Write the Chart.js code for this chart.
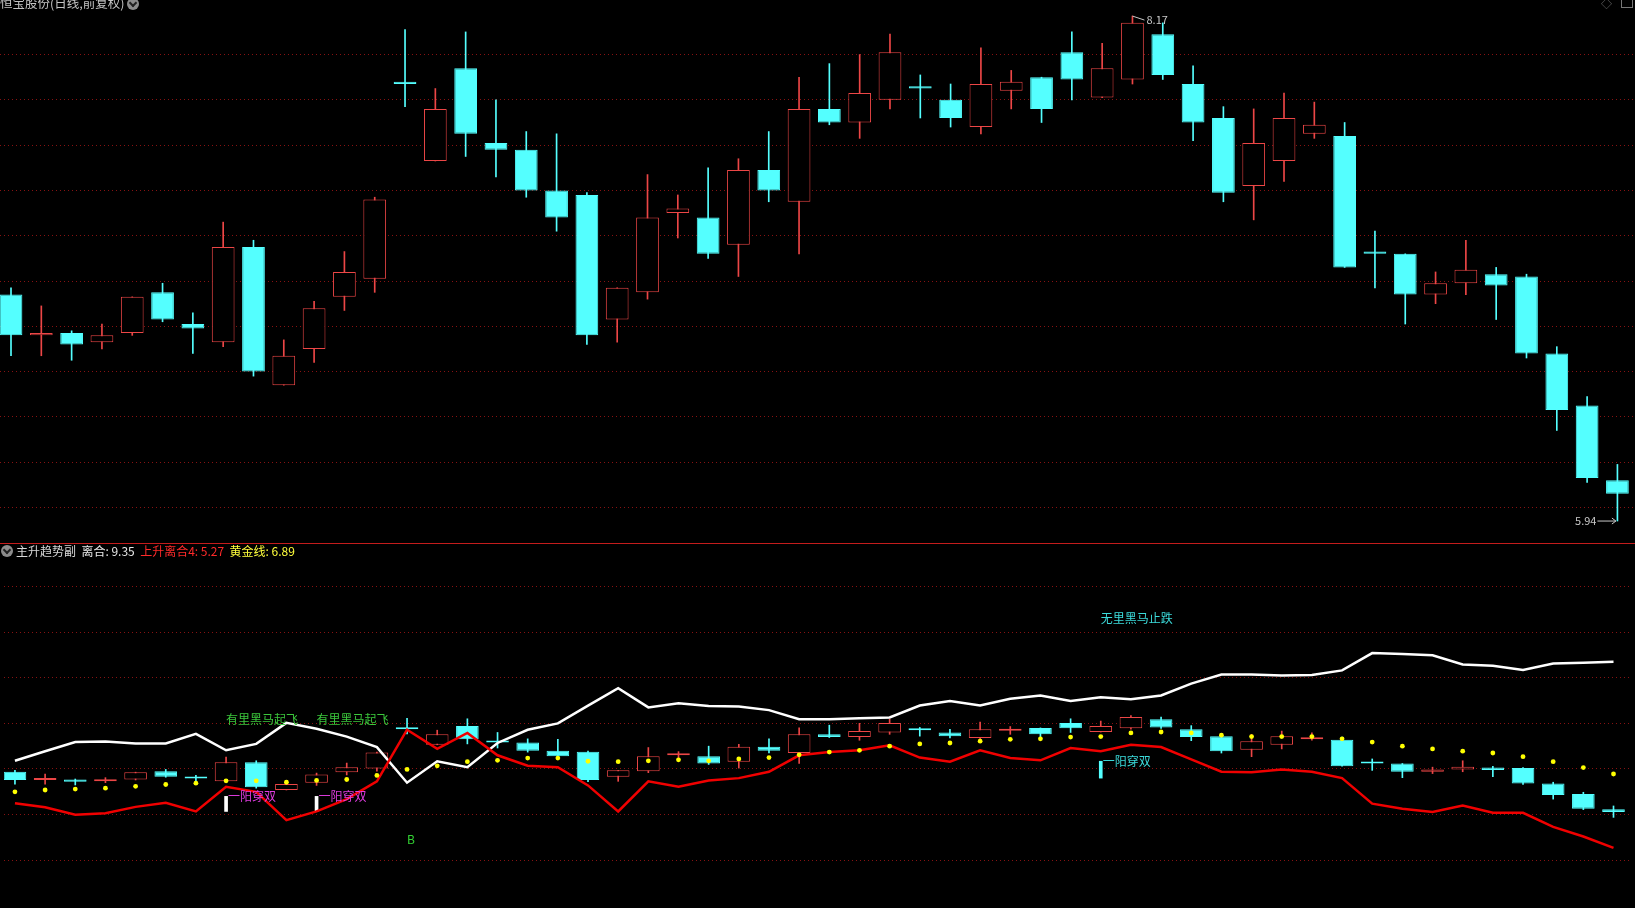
<!DOCTYPE html>
<html lang="zh-CN">
<head>
<meta charset="UTF-8">
<title>恒宝股份(日线,前复权)</title>
<script src="https://cdn.jsdelivr.net/npm/chart.js"></script>
<style>
  body { margin:0; background:#000; width:1635px; height:908px; overflow:hidden; position:relative; font-family:"Noto Sans CJK SC", "Noto Sans", sans-serif; }
  canvas { position:absolute; left:0; }
  .hdr { position:absolute; font-size:12px; white-space:pre; line-height:14px; }
  .ico { position:absolute; width:12px; height:12px; border-radius:50%; background:#8c8c8c; }
  .ico::after { content:""; position:absolute; left:3px; top:2px; width:4px; height:4px; border-right:2px solid #222; border-bottom:2px solid #222; transform:rotate(45deg); }
</style>
</head>
<body>
<canvas id="priceChart" style="top:0" width="1635" height="543"></canvas>
<div style="position:absolute;left:0;top:543px;width:1635px;height:1px;background:#c41c1c"></div>
<canvas id="indChart" style="top:544px" width="1635" height="364"></canvas>

<!-- headers -->
<div class="hdr" style="left:0;top:-4px;color:#c4c4c4;font-size:12.5px">恒宝股份(日线,前复权)</div>
<div class="ico" style="left:127px;top:-2px"></div>
<div class="hdr" style="left:1601px;top:-4px;color:#777;font-size:11px">◇</div>
<div style="position:absolute;left:1621px;top:-2px;width:10px;height:9px;border:1px solid #777;border-top:none"></div>

<div class="ico" style="left:1px;top:545px"></div>
<div class="hdr" style="left:16px;top:544px"><span style="color:#d8d8d8">主升趋势副</span>  <span style="color:#e8e8e8">离合: 9.35</span>  <span style="color:#ff2a2a">上升离合4: 5.27</span>  <span style="color:#ffff3c">黄金线: 6.89</span></div>

<script>
// daily candles (前复权)
const opens  = [6.94,6.76,6.77,6.73,6.77,6.95,6.81,6.73,7.15,6.54,6.70,6.93,7.01,7.88,7.53,7.94,7.61,7.58,7.40,7.38,
                6.83,6.95,7.30,7.28,7.16,7.49,7.35,7.76,7.70,7.80,7.86,7.80,7.68,7.84,7.90,8.01,7.81,7.89,8.09,7.87,
                7.72,7.42,7.53,7.65,7.64,7.13,7.12,6.94,6.99,7.03,7.02,6.68,6.45,6.12];
const highs  = [6.97,6.89,6.78,6.81,6.93,6.99,6.86,7.26,7.18,6.74,6.91,7.13,7.37,8.11,7.85,8.10,7.80,7.66,7.65,7.39,
                6.97,7.47,7.38,7.50,7.54,7.66,7.90,7.96,8.00,8.09,7.91,7.87,8.03,7.93,7.90,8.10,8.05,8.17,8.14,7.95,
                7.77,7.76,7.83,7.79,7.70,7.22,7.12,7.04,7.18,7.06,7.03,6.71,6.49,6.19];
const lows   = [6.67,6.67,6.65,6.70,6.76,6.82,6.68,6.71,6.58,6.54,6.64,6.87,6.95,7.77,7.53,7.55,7.46,7.37,7.22,6.72,
                6.73,6.92,7.19,7.10,7.02,7.35,7.12,7.69,7.63,7.76,7.72,7.68,7.65,7.76,7.70,7.80,7.81,7.87,7.89,7.62,
                7.35,7.27,7.44,7.63,7.06,6.97,6.81,6.90,6.94,6.83,6.66,6.34,6.11,5.94];
const closes = [6.76,6.77,6.72,6.76,6.93,6.83,6.79,7.15,6.60,6.67,6.88,7.04,7.36,7.87,7.76,7.65,7.58,7.40,7.28,6.76,
                6.97,7.28,7.32,7.12,7.49,7.40,7.76,7.70,7.83,8.01,7.85,7.72,7.87,7.88,7.76,7.89,7.94,8.14,7.91,7.70,
                7.39,7.61,7.72,7.69,7.06,7.12,6.94,6.99,7.05,6.98,6.68,6.43,6.13,6.06];

// 主升趋势副 indicator lines
const lihe   = [7.18,7.39,7.59,7.60,7.56,7.56,7.77,7.41,7.55,8.01,7.88,7.71,7.48,6.70,7.17,7.04,7.57,7.86,8.00,8.39,
                8.77,8.35,8.44,8.38,8.37,8.29,8.09,8.09,8.11,8.13,8.39,8.49,8.39,8.54,8.61,8.49,8.57,8.53,8.61,8.87,
                9.07,9.07,9.05,9.06,9.16,9.54,9.52,9.49,9.29,9.26,9.17,9.31,9.33,9.35];
const rise4  = [6.25,6.16,6.00,6.03,6.17,6.26,6.07,6.61,6.50,5.88,6.07,6.34,6.73,7.86,7.44,7.79,7.30,7.07,7.04,6.64,
                6.07,6.73,6.61,6.75,6.80,6.94,7.30,7.37,7.41,7.52,7.25,7.16,7.41,7.24,7.19,7.46,7.39,7.53,7.48,7.21,
                6.94,6.93,6.99,6.94,6.80,6.24,6.13,6.06,6.20,6.04,6.04,5.73,5.52,5.27];
const golden = [6.50,6.54,6.56,6.58,6.62,6.66,6.69,6.74,6.74,6.71,6.75,6.77,6.86,6.99,7.07,7.16,7.19,7.24,7.24,7.17,
                7.16,7.18,7.20,7.18,7.22,7.25,7.31,7.37,7.41,7.50,7.55,7.57,7.61,7.65,7.66,7.70,7.71,7.79,7.81,7.79,
                7.74,7.71,7.71,7.71,7.66,7.59,7.50,7.44,7.39,7.35,7.27,7.16,7.03,6.89];

// signal bars
const flyIdx  = [7, 10];   // 有里黑马起飞 / 一阳穿双
const stopIdx = [36];      // 无里黑马止跌 / 一阳穿双
const buyIdx  = [13];      // B

const idx = opens.map((_, i) => i);
const RED = '#ec4646', CYAN = '#54ffff', GRID = 'rgba(135,18,18,1)';
const FONT = '"Noto Sans CJK SC", sans-serif';

function candleSets() {
  const up = idx.map(i => closes[i] >= opens[i]);
  return [
    { type: 'bar', data: idx.map(i => ({ x: i, y: [lows[i], highs[i]] })),
      backgroundColor: up.map(u => u ? RED : CYAN), barThickness: 1, grouped: false, order: 10 },
    { type: 'bar', data: idx.map(i => ({ x: i, y: [opens[i], closes[i]] })),
      backgroundColor: up.map(u => u ? '#000' : CYAN), borderColor: up.map(u => u ? RED : CYAN),
      borderWidth: 1, borderSkipped: false, barPercentage: 0.75, categoryPercentage: 1,
      minBarLength: 2, grouped: false, order: 9 }
  ];
}

function scalesFor(min, max, gridVals) {
  return {
    x: { type: 'linear', min: -0.363, max: 53.58, offset: false, display: false },
    y: { min: min, max: max, position: 'left',
         afterBuildTicks: s => { s.ticks = gridVals.map(v => ({ value: v })); },
         afterFit: s => { s.width = 0; },
         ticks: { display: false },
         grid: { color: GRID, lineWidth: 1, drawTicks: false },
         border: { display: false, dash: [1, 3] } }
  };
}

// text labels placed through the scales
const textPlugin = {
  id: 'texts',
  afterDatasetsDraw(chart, args, opts) {
    const ctx = chart.ctx, xs = chart.scales.x, ys = chart.scales.y;
    ctx.save();
    ctx.textBaseline = 'middle';
    (opts.items || []).forEach(it => {
      const x = xs.getPixelForValue(it.i) + (it.dx || 0);
      const y = ys.getPixelForValue(it.v);
      ctx.font = (it.size || 12) + 'px ' + FONT;
      ctx.fillStyle = it.color;
      ctx.textAlign = it.align || 'left';
      ctx.fillText(it.text, x, y + (it.dy || 0));
      if (it.arrowTo) {
        ctx.strokeStyle = it.color; ctx.lineWidth = 1;
        ctx.beginPath();
        const tx = xs.getPixelForValue(it.arrowTo[0]), ty = ys.getPixelForValue(it.arrowTo[1]);
        ctx.moveTo(x + it.arrowFrom, y + (it.dy || 0)); ctx.lineTo(tx, ty);
        ctx.stroke();
        if (it.head) {
          ctx.beginPath();
          ctx.moveTo(tx - 4, ty - 3); ctx.lineTo(tx, ty); ctx.lineTo(tx - 4, ty + 3);
          ctx.stroke();
        }
      }
    });
    ctx.restore();
  }
};

const hiI = highs.indexOf(Math.max(...highs)), loI = lows.indexOf(Math.min(...lows));

new Chart(document.getElementById('priceChart'), {
  type: 'bar',
  data: { datasets: candleSets() },
  options: {
    responsive: false, devicePixelRatio: 1, animation: false,
    layout: { padding: 0 },
    scales: scalesFor(5.843, 8.241, [6.0, 6.2, 6.4, 6.6, 6.8, 7.0, 7.2, 7.4, 7.6, 7.8, 8.0]),
    plugins: {
      legend: { display: false }, tooltip: { enabled: false },
      texts: { items: [
        { i: hiI, v: highs[hiI], text: highs[hiI].toFixed(2), color: '#c8c8c8', size: 11, dx: 14, dy: 4,
          arrowTo: [hiI, highs[hiI]], arrowFrom: -2 },
        { i: loI, v: lows[loI], text: lows[loI].toFixed(2), color: '#c8c8c8', size: 11, dx: -21, align: 'right',
          arrowTo: [loI - 0.05, lows[loI]], arrowFrom: 1, head: true }
      ] }
    }
  },
  plugins: [textPlugin]
});

const markerData = flyIdx.map(i => ({ x: i, y: [6.07, 6.40] })).concat(stopIdx.map(i => ({ x: i, y: [6.80, 7.17] })));
const markerColors = flyIdx.map(() => '#ffffff').concat(stopIdx.map(() => CYAN));

new Chart(document.getElementById('indChart'), {
  type: 'bar',
  data: { datasets: candleSets().concat([
    { type: 'bar', data: markerData, backgroundColor: markerColors, barThickness: 3, grouped: false, order: 8 },
    { type: 'line', data: idx.map(i => ({ x: i, y: lihe[i] })), borderColor: '#ffffff', borderWidth: 2.5,
      pointRadius: 0, tension: 0, order: 3 },
    { type: 'line', data: idx.map(i => ({ x: i, y: rise4[i] })), borderColor: '#f00000', borderWidth: 2.5,
      pointRadius: 0, tension: 0, order: 2 },
    { type: 'line', data: idx.map(i => ({ x: i, y: golden[i] })), showLine: false, pointRadius: 2.4,
      pointBackgroundColor: '#ffff00', pointBorderWidth: 0, order: 1 }
  ]) },
  options: {
    responsive: false, devicePixelRatio: 1, animation: false,
    layout: { padding: 0 },
    scales: scalesFor(4.042, 11.842, [5, 6, 7, 8, 9, 10, 11]),
    plugins: {
      legend: { display: false }, tooltip: { enabled: false },
      texts: { items: []
        .concat(flyIdx.map(i => ({ i, v: 8.08, text: '有里黑马起飞', color: '#3cc83c' })))
        .concat(flyIdx.map(i => ({ i, v: 6.40, dx: 2, text: '一阳穿双', color: '#e03ce0' })))
        .concat(stopIdx.map(i => ({ i, v: 10.30, text: '无里黑马止跌', color: '#3cdcdc' })))
        .concat(stopIdx.map(i => ({ i, v: 7.17, dx: 2, text: '一阳穿双', color: '#3cdcdc' })))
        .concat(buyIdx.map(i => ({ i, v: 5.46, text: 'B', color: '#32d232' })))
      }
    }
  },
  plugins: [textPlugin]
});
</script>
</body>
</html>
